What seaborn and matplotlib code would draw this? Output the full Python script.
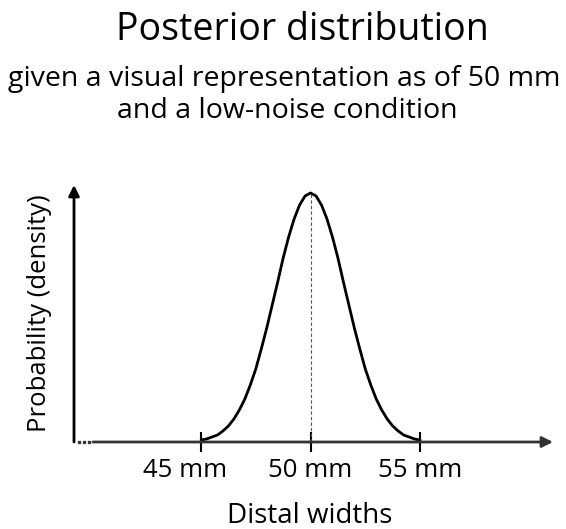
import numpy as np
import pandas as pd
import matplotlib
matplotlib.use("Agg")
import matplotlib.pyplot as plt
import matplotlib.transforms as mtransforms
import seaborn as sns

# ---- data ----
width_mm = [45.0, 45.25, 45.5, 45.75, 46.0, 46.25, 46.5, 46.75, 47.0, 47.25,
            47.5, 47.75, 48.0, 48.25, 48.5, 48.75, 49.0, 49.25, 49.5, 49.75,
            50.0,
            50.25, 50.5, 50.75, 51.0, 51.25, 51.5, 51.75, 52.0, 52.25, 52.5,
            52.75, 53.0, 53.25, 53.5, 53.75, 54.0, 54.25, 54.5, 54.75, 55.0]
density = [0.002, 0.003, 0.005, 0.007, 0.011, 0.016, 0.023, 0.032, 0.043, 0.057,
           0.073, 0.093, 0.114, 0.137, 0.160, 0.184, 0.205, 0.223, 0.237, 0.246,
           0.249,
           0.246, 0.237, 0.223, 0.205, 0.184, 0.160, 0.137, 0.114, 0.093, 0.073,
           0.057, 0.043, 0.032, 0.023, 0.016, 0.011, 0.007, 0.005, 0.003, 0.002]
tick_values = [45, 50, 55]
tick_labels = ["45 mm", "50 mm", "55 mm"]
center_mm = 50

title = "Posterior distribution"
subtitle1 = "given a visual representation as of 50 mm"
subtitle2 = "and a low-noise condition"
xlabel = "Distal widths"
ylabel = "Probability (density)"

df = pd.DataFrame({"width": width_mm, "density": density})

sns.set_theme(style="white")
plt.rcParams["font.family"] = ["Open Sans", "DejaVu Sans"]
plt.rcParams["text.color"] = "black"
plt.rcParams["xtick.color"] = "black"
plt.rcParams["xtick.labelcolor"] = "black"

W, H = 566, 529
fig = plt.figure(figsize=(W / 100, H / 100), dpi=100)
ax = fig.add_axes([74 / W, (H - 442) / H, (553 - 74) / W, (442 - 185) / H])

sns.lineplot(data=df, x="width", y="density", color="black", lw=2.0, ax=ax)
peak = max(density)
ax.vlines(center_mm, 0, peak, colors="#555555", linestyles=(0, (3, 2)), lw=0.8)

ax.set_xlim(39.2, 61.07)
ax.set_ylim(0, peak * 1.032)

for s in ax.spines.values():
    s.set_visible(False)

# axes arrows
ax.annotate("", xy=(0, 1), xytext=(0, 0), xycoords="axes fraction",
            arrowprops=dict(arrowstyle="-|>", lw=2.0, color="black",
                            mutation_scale=16, shrinkA=0, shrinkB=0))
ax.annotate("", xy=(1, 0), xytext=(0.0397, 0), xycoords="axes fraction",
            arrowprops=dict(arrowstyle="-|>", lw=2.0, color="#333333",
                            mutation_scale=16, shrinkA=0, shrinkB=0))
ax.plot([0.011, 0.0215, 0.032], [0, 0, 0], "s", ms=1.8, color="#333333",
        transform=ax.transAxes, clip_on=False)

ax.set_xticks(tick_values)
ax.set_xticklabels(tick_labels, fontsize=18.5)
ax.set_yticks([])
ax.tick_params(axis="x", direction="inout", length=13.7, width=1.5,
               color="black", pad=5, bottom=True)
ax.set_xlabel("")
ax.set_ylabel("")
# the first label sits slightly left of its tick in the reference
first = ax.get_xticklabels()[0]
first.set_transform(first.get_transform() +
                    mtransforms.ScaledTranslation(-0.16, 0, fig.dpi_scale_trans))

fig.text(302 / W, 1 - 40 / H, title, ha="center", va="baseline", fontsize=27)
fig.text(284 / W, 1 - 86 / H, subtitle1, ha="center", va="baseline", fontsize=20.5)
fig.text(287 / W, 1 - 118 / H, subtitle2, ha="center", va="baseline", fontsize=20.5)
fig.text(310 / W, 1 - 523 / H, xlabel, ha="center", va="baseline", fontsize=20)
fig.text(40 / W, 1 - 313 / H, ylabel, ha="center", va="center", rotation=90,
         fontsize=18.5)

fig.savefig("out.png", dpi=100)
